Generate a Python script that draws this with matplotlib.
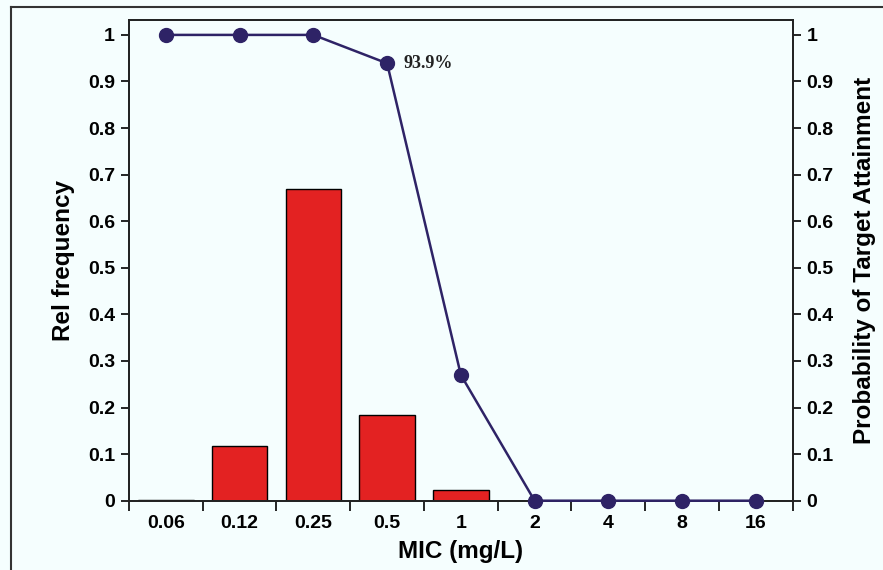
import numpy as np
import matplotlib
matplotlib.use("Agg")
import matplotlib.pyplot as plt
from matplotlib.lines import Line2D

# MIC distribution and PTA values
mic_labels = ["0.06", "0.12", "0.25", "0.5", "1", "2", "4", "8", "16"]
rel_freq = [0.002, 0.118, 0.669, 0.184, 0.023, 0.0, 0.0, 0.0, 0.0]
pta = [1.0, 1.0, 1.0, 0.939, 0.27, 0.0, 0.0, 0.0, 0.0]
pta_note = "93.9%"
yticks = [0, 0.1, 0.2, 0.3, 0.4, 0.5, 0.6, 0.7, 0.8, 0.9, 1]
ytick_labels = ["0", "0.1", "0.2", "0.3", "0.4", "0.5", "0.6", "0.7", "0.8", "0.9", "1"]

BG = "#f5fefe"
BAR = "#e32222"
LINE = "#2e2366"

plt.rcParams["font.family"] = ["Liberation Sans", "DejaVu Sans"]

fig = plt.figure(figsize=(8.83, 5.70), dpi=100, facecolor=BG)
W, H = 883, 570
ax = fig.add_axes([129 / W, 1 - 500.7 / H, (792.7 - 129) / W, (500.7 - 20) / H])
ax.set_facecolor(BG)

x = np.arange(len(mic_labels))
ax.bar(x, rel_freq, width=0.75, color=BAR, edgecolor="black", linewidth=1.0, zorder=2)
ax.set_xlim(-0.5, len(mic_labels) - 0.5)
ax.set_ylim(0, 1.032)

# ticks at category boundaries, labels at centres
ax.set_xticks(np.arange(-0.5, len(mic_labels), 1.0))
ax.set_xticklabels([])
ax.set_xticks(x, minor=True)
ax.set_xticklabels(mic_labels, minor=True, fontsize=14, fontweight="bold")
ax.tick_params(axis="x", which="major", direction="out", length=7, width=1.2)
ax.tick_params(axis="x", which="minor", length=0, pad=10)
ax.set_yticks(yticks)
ax.set_yticklabels(ytick_labels, fontsize=14, fontweight="bold")
ax.tick_params(axis="y", direction="out", length=6, width=1.2, pad=4)
for s in ax.spines.values():
    s.set_linewidth(1.3)
    s.set_color("#222222")
ax.set_xlabel("MIC (mg/L)", fontsize=17.5, fontweight="bold", labelpad=6)
ax.set_ylabel("Rel frequency", fontsize=17.5, fontweight="bold", labelpad=9)

ax2 = ax.twinx()
ax2.set_ylim(0, 1.032)
ax2.plot(x, pta, color=LINE, linewidth=1.8, marker="o", markersize=10,
         clip_on=False, zorder=5)
ax2.set_yticks(yticks)
ax2.set_yticklabels(ytick_labels, fontsize=14, fontweight="bold")
ax2.tick_params(axis="y", direction="out", length=6, width=1.2, pad=4)
for s in ax2.spines.values():
    s.set_linewidth(1.3)
    s.set_color("#222222")
ax2.set_ylabel("Probability of Target Attainment", fontsize=17.5, fontweight="bold",
               labelpad=14)
ax2.annotate(pta_note, xy=(x[3], pta[3]), xytext=(12, 0), textcoords="offset points",
             fontsize=13, fontweight="bold", family="Liberation Serif",
             va="center", ha="left", color="#222222")

# outer frame of the original figure
fig.add_artist(Line2D([11 / W, 1.0], [1 - 7 / H, 1 - 7 / H], color="#333333", lw=1.5,
                      transform=fig.transFigure))
fig.add_artist(Line2D([11 / W, 11 / W], [0, 1 - 7 / H], color="#333333", lw=1.5,
                      transform=fig.transFigure))

fig.savefig("out.png", dpi=100, facecolor=BG)
